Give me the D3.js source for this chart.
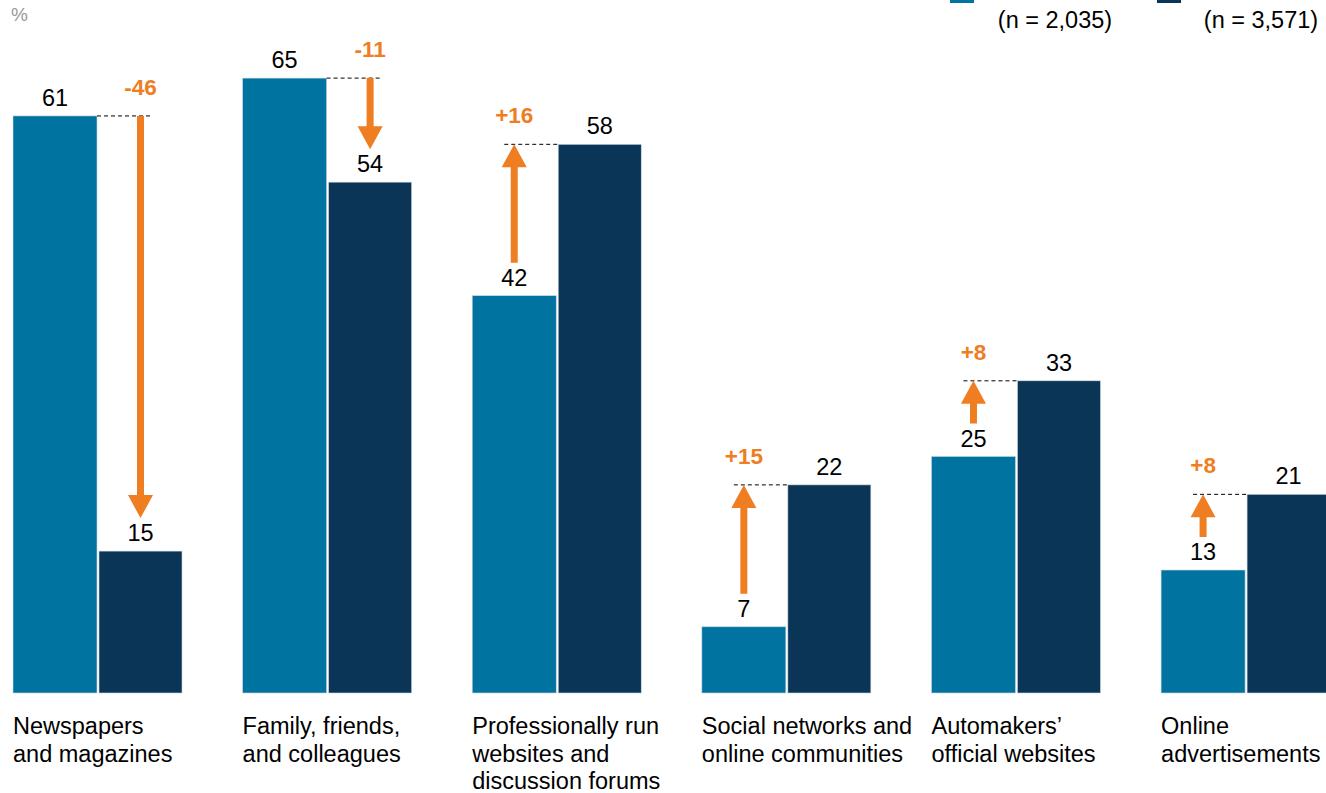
<!DOCTYPE html>
<html>
<head>
<meta charset="utf-8">
<script src="https://cdn.jsdelivr.net/npm/d3@7"></script>
<style>
  body { margin: 0; background: #fff; }
  text { font-family: "Liberation Sans", Arial, sans-serif; }
</style>
</head>
<body>
<script>
// categories (label lines) and values for the two survey waves
var categories = [
  ["Newspapers", "and magazines"],
  ["Family, friends,", "and colleagues"],
  ["Professionally run", "websites and", "discussion forums"],
  ["Social networks and", "online communities"],
  ["Automakers\u2019", "official websites"],
  ["Online", "advertisements"]
];
var before = [61, 65, 42, 7, 25, 13];
var after  = [15, 54, 58, 22, 33, 21];
var sampleSizes = ["(n = 2,035)", "(n = 3,571)"];

var W = 1326, H = 793;
var light = "#0073a0", dark = "#0b3557", orange = "#ef7d22";

var svg = d3.select("body").append("svg").attr("width", W).attr("height", H);

var x = d3.scaleBand().domain(d3.range(categories.length)).range([13, 1331]).paddingInner(0.26).paddingOuter(0);
var y = d3.scaleLinear().domain([0, 100]).range([693, -253]);
var bw = 84;

svg.append("text").attr("x", 11).attr("y", 21).attr("fill", "#999").attr("font-size", 19).text("%");

// legend (top cropped)
svg.append("rect").attr("x", 950).attr("y", -14).attr("width", 24).attr("height", 17).attr("fill", light);
svg.append("rect").attr("x", 1157).attr("y", -14).attr("width", 24).attr("height", 17).attr("fill", dark);
svg.selectAll("text.n").data(sampleSizes).enter().append("text")
  .attr("class", "n")
  .attr("x", function(d, i) { return i == 0 ? 1055 : 1261; })
  .attr("y", 28).attr("text-anchor", "middle").attr("font-size", 23.5).attr("fill", "#000")
  .text(function(d) { return d; });

var g = svg.selectAll("g.cat").data(categories).enter().append("g")
  .attr("class", "cat")
  .attr("transform", function(d, i) { return "translate(" + x(i) + ",0)"; });

// bars
g.append("rect").attr("x", 0).attr("width", bw)
  .attr("y", function(d, i) { return y(before[i]); })
  .attr("height", function(d, i) { return y(0) - y(before[i]); })
  .attr("fill", light).attr("stroke", "#c9d6e0").attr("stroke-width", 0.6);
g.append("rect").attr("x", bw + 2).attr("width", bw - 1)
  .attr("y", function(d, i) { return y(after[i]); })
  .attr("height", function(d, i) { return y(0) - y(after[i]); })
  .attr("fill", dark).attr("stroke", "#c9d6e0").attr("stroke-width", 0.6);

// value labels
g.append("text").attr("x", bw / 2).attr("text-anchor", "middle").attr("font-size", 23.5)
  .attr("y", function(d, i) { return y(before[i]) - 10; })
  .text(function(d, i) { return before[i]; });
g.append("text").attr("x", bw + 2 + (bw - 1) / 2).attr("text-anchor", "middle").attr("font-size", 23.5)
  .attr("y", function(d, i) { return y(after[i]) - 10; })
  .text(function(d, i) { return after[i]; });

// category labels
g.append("text").attr("y", 734).attr("font-size", 23.5)
  .selectAll("tspan").data(function(d) { return d; }).enter().append("tspan")
  .attr("x", 0).attr("dy", function(d, i) { return i == 0 ? 0 : 27.5; })
  .text(function(d) { return d; });

// change arrows
g.each(function(d, i) {
  var sel = d3.select(this);
  var a = before[i], b = after[i], diff = b - a;
  var up = diff > 0;
  var ax = up ? bw / 2 : bw + 2 + (bw - 1) / 2;
  var hi = Math.max(a, b), lo = Math.min(a, b);
  var yHi = y(hi), yLo = y(lo) - 33;
  // dashed reference line
  var x1 = up ? ax - 10 : bw;
  var x2 = up ? bw + 2 : ax + 12;
  sel.append("line").attr("x1", x1).attr("x2", x2).attr("y1", yHi).attr("y2", yHi)
    .attr("stroke", "#000").attr("stroke-width", 1).attr("stroke-dasharray", "4,3");
  var head = 23, hw = 12.5, sw = 3.5;
  var pts;
  if (up) {
    pts = [[ax - sw, yLo], [ax - sw, yHi + head], [ax - hw, yHi + head], [ax, yHi],
           [ax + hw, yHi + head], [ax + sw, yHi + head], [ax + sw, yLo]];
  } else {
    pts = [[ax - sw, yHi], [ax - sw, yLo - head], [ax - hw, yLo - head], [ax, yLo],
           [ax + hw, yLo - head], [ax + sw, yLo - head], [ax + sw, yHi]];
  }
  sel.append("path").attr("d", d3.line()(pts) + "Z").attr("fill", orange);
  sel.append("text").attr("x", ax).attr("y", yHi - 21).attr("text-anchor", "middle")
    .attr("font-size", 22.5).attr("font-weight", "bold").attr("fill", orange)
    .text((up ? "+" : "-") + Math.abs(diff));
});
</script>
</body>
</html>
